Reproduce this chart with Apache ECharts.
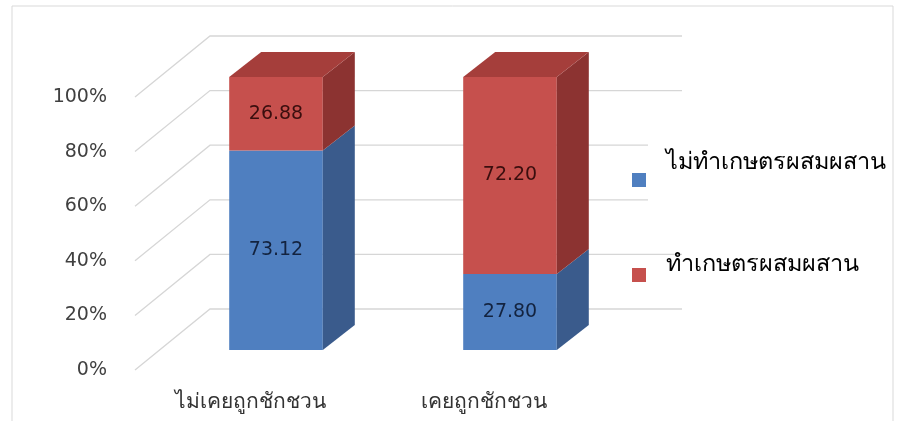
<!DOCTYPE html>
<html>
<head>
<meta charset="utf-8">
<script src="https://cdn.jsdelivr.net/npm/echarts@6/dist/echarts.min.js"></script>
<style>
  html, body { margin: 0; padding: 0; background: #fff; }
  #chart { width: 897px; height: 421px; }
</style>
</head>
<body>
<div id="chart"></div>
<script>
  // ข้อมูล
  const categories = ['ไม่เคยถูกชักชวน', 'เคยถูกชักชวน']
  const seriesNames = ['ไม่ทำเกษตรผสมผสาน', 'ทำเกษตรผสมผสาน']
  const notMixed = [73.12, 27.80]
  const mixed = [26.88, 72.20]
  const yTicks = [0, 20, 40, 60, 80, 100]

  const FONT = '"DejaVu Sans", "Noto Sans", sans-serif'
  const THAI_FONT = '"Noto Sans", "DejaVu Sans", sans-serif'
  // pseudo 3D offsets
  const FRONT = [26, -20]   // bar front plane vs axis plane
  const DEPTH = [32, -25]   // bar depth
  const WALL = [77, -61]    // back wall depth
  const WALL_EXTRA = 81

  const faces = [
    {front: '#4f7fc0', side: '#3a5b8c', top: '#4570a8', text: '#13233f'},
    {front: '#c6504d', side: '#8c3331', top: '#a53e3b', text: '#3a0e0e'}
  ]

  const chart = echarts.init(document.getElementById('chart'))

  function barRender(si) {
    return function (params, api) {
      const cat = api.value(0)
      const lo = api.coord([cat, api.value(1)])
      const hi = api.coord([cat, api.value(2)])
      const w = api.size([1, 0])[0] * 0.4
      const x0 = lo[0] - w / 2 + FRONT[0]
      const x1 = x0 + w
      const yb = lo[1] + FRONT[1]
      const yt = hi[1] + FRONT[1]
      const c = faces[si]
      const children = [
        {type: 'rect', shape: {x: x0, y: yt, width: w, height: yb - yt}, style: {fill: c.front}},
        {type: 'polygon', shape: {points: [[x1, yb], [x1 + DEPTH[0], yb + DEPTH[1]], [x1 + DEPTH[0], yt + DEPTH[1]], [x1, yt]]}, style: {fill: c.side}}
      ]
      if (api.value(3)) {
        children.push({type: 'polygon', shape: {points: [[x0, yt], [x0 + DEPTH[0], yt + DEPTH[1]], [x1 + DEPTH[0], yt + DEPTH[1]], [x1, yt]]}, style: {fill: c.top}})
      }
      children.push({
        type: 'text',
        style: {
          text: api.value(4).toFixed(2), x: (x0 + x1) / 2, y: (yt + yb) / 2,
          align: 'center', verticalAlign: 'middle', fill: c.text, fontSize: 19, fontFamily: FONT
        }
      })
      return {type: 'group', children}
    }
  }

  function gridRender(params, api) {
    const p = api.coord([0, api.value(0)])
    const gx = params.coordSys.x
    const xEnd = params.coordSys.x + params.coordSys.width + WALL_EXTRA
    const y = p[1]
    return {
      type: 'polyline',
      shape: {points: [[gx + 2, y], [gx + WALL[0], y + WALL[1]], [xEnd, y + WALL[1]]]},
      style: {stroke: '#d6d6d6', lineWidth: 1.3, fill: null}
    }
  }

  const blueData = categories.map((c, i) => [i, 0, notMixed[i], 0, notMixed[i]])
  const redData = categories.map((c, i) => [i, notMixed[i], notMixed[i] + mixed[i], 1, mixed[i]])

  const legendText = {fontSize: 23.5, lineHeight: 30, color: '#000', fontFamily: THAI_FONT}

  chart.setOption({
    animation: false,
    graphic: [
      {type: 'rect', z: 0, shape: {x: 12, y: 6, width: 881, height: 440}, style: {fill: null, stroke: '#d9d9d9', lineWidth: 1}},
      {type: 'rect', z: 50, shape: {x: 648, y: 112, width: 45, height: 122}, style: {fill: '#fff'}}
    ],
    grid: {left: 133, width: 468, top: 97, bottom: 51},
    xAxis: {
      type: 'category',
      data: categories,
      axisLine: {show: false},
      axisTick: {show: false},
      axisLabel: {color: '#333', fontSize: 21, margin: 22, fontFamily: THAI_FONT}
    },
    yAxis: {
      type: 'value',
      min: 0,
      max: 100,
      interval: 20,
      axisLabel: {formatter: '{value}%', color: '#404040', fontSize: 19, margin: 26, fontFamily: FONT},
      splitLine: {show: false},
      axisLine: {show: false},
      axisTick: {show: false}
    },
    legend: {
      orient: 'vertical',
      left: 632,
      top: 150,
      padding: 0,
      itemGap: 42,
      itemWidth: 14,
      itemHeight: 14,
      z: 60,
      data: seriesNames.map(n => ({name: n, icon: 'rect'})),
      formatter: name => (name === seriesNames[0] ? '{a|' : '{b|') + name + '}',
      textStyle: {
        color: '#000',
        fontFamily: THAI_FONT,
        rich: {
          a: Object.assign({padding: [0, 0, 36, 15]}, legendText),
          b: Object.assign({padding: [0, 0, 22, 15]}, legendText)
        }
      }
    },
    series: [
      {
        type: 'custom',
        name: 'grid',
        z: 1,
        silent: true,
        renderItem: gridRender,
        data: yTicks.map(v => [v])
      },
      {
        type: 'custom',
        name: seriesNames[0],
        z: 3,
        itemStyle: {color: faces[0].front},
        renderItem: barRender(0),
        data: blueData
      },
      {
        type: 'custom',
        name: seriesNames[1],
        z: 4,
        itemStyle: {color: faces[1].front},
        renderItem: barRender(1),
        data: redData
      }
    ]
  })
</script>
</body>
</html>
